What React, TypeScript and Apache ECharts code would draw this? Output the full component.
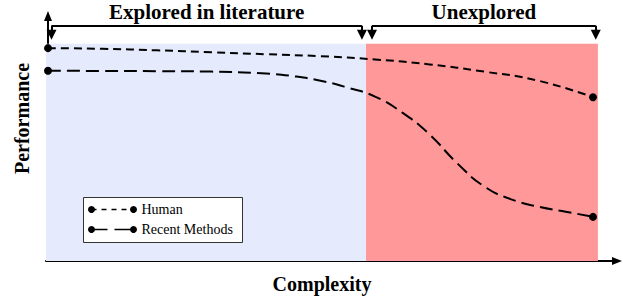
import React, { useEffect, useRef } from "react";
import * as echarts from "echarts";

// Complexity (x) and Performance (y) values, in chart units
const humanX = [0, 1, 2, 3, 4, 5, 6, 7, 8, 9, 10];
const humanPerf = [9.8, 9.77, 9.7, 9.61, 9.52, 9.43, 9.28, 9.05, 8.72, 8.3, 7.54];
const recentX = [0, 1, 2, 3, 4, 4.5, 5, 5.5, 6, 6.5, 7, 7.5, 8, 8.5, 9, 9.5, 10];
const recentPerf = [8.76, 8.75, 8.74, 8.72, 8.63, 8.51, 8.3, 7.98, 7.57, 6.83, 5.83, 4.52, 3.44, 2.84, 2.5, 2.27, 2.03];

const seriesNames = ["Human", "Recent Methods"];
const regionNames = ["Explored in literature", "Unexplored"];
const regionStart = [-0.0367, 5.835];
const regionEnd = [5.835, 10.09];
const regionTop = 10;
const bracketStart = [0.064, 5.945];
const bracketEnd = [5.76, 10.05];
const bracketY = 10.83;
const bracketTipY = 10.42;

const xMin = -0.0367;
const xMax = 10.44;
const yMin = 0;
const yMax = 11.28;

const FONT = "Liberation Serif";

function pts(xs: number[], ys: number[]) {
  return xs.map((x, i) => {
    const item: any = { value: [x, ys[i]] };
    if (i !== 0 && i !== xs.length - 1) item.symbol = "none";
    return item;
  });
}

export default function App() {
  const ref = useRef<HTMLDivElement>(null);
  useEffect(() => {
    if (!ref.current) return;
    const chart = echarts.init(ref.current, null, { renderer: "svg" });
    const regionColors = ["#e5ebfd", "#ff9999"];
    const legendRow = (i: number, y: number, dash: number[]) => [
      {
        type: "line",
        z: 101,
        shape: { x1: 8, y1: y, x2: 50, y2: y },
        style: { stroke: "#000", lineWidth: 1.6, lineDash: dash },
      },
      { type: "circle", z: 102, shape: { cx: 8, cy: y, r: 3.5 }, style: { fill: "#000" } },
      { type: "circle", z: 102, shape: { cx: 50, cy: y, r: 3.5 }, style: { fill: "#000" } },
      {
        type: "text",
        z: 102,
        x: 58,
        y,
        style: {
          text: seriesNames[i],
          fontFamily: FONT,
          fontSize: 14,
          fill: "#000",
          verticalAlign: "middle",
        },
      },
    ];
    const option: any = {
      animation: false,
      grid: { left: 46, right: 6, top: 16, bottom: 37 },
      xAxis: {
        type: "value",
        min: xMin,
        max: xMax,
        name: "Complexity",
        nameLocation: "middle",
        nameGap: 13,
        nameTextStyle: {
          fontFamily: FONT,
          fontWeight: "bold",
          fontSize: 20,
          color: "#000",
          padding: [0, 19, 0, 0],
        },
        axisLine: {
          show: true,
          symbol: ["none", "triangle"],
          symbolSize: [8, 10],
          lineStyle: { color: "#000", width: 2 },
        },
        axisTick: { show: false },
        axisLabel: { show: false },
        splitLine: { show: false },
      },
      yAxis: {
        type: "value",
        min: yMin,
        max: yMax,
        name: "Performance",
        nameLocation: "middle",
        nameRotate: 90,
        nameGap: 14,
        nameTextStyle: {
          fontFamily: FONT,
          fontWeight: "bold",
          fontSize: 20,
          color: "#000",
          padding: [0, 0, 0, 40],
        },
        axisLine: {
          show: true,
          symbol: ["none", "triangle"],
          symbolSize: [8, 10],
          lineStyle: { color: "#000", width: 2 },
        },
        axisTick: { show: false },
        axisLabel: { show: false },
        splitLine: { show: false },
      },
      series: [
        {
          name: seriesNames[0],
          type: "line",
          data: pts(humanX, humanPerf),
          smooth: 0.5,
          symbol: "circle",
          symbolSize: 8,
          itemStyle: { color: "#000" },
          lineStyle: { color: "#000", width: 2, type: [8, 5] },
          z: 5,
          markArea: {
            silent: true,
            data: regionNames.map((_, i) => [
              { xAxis: regionStart[i], yAxis: 0, itemStyle: { color: regionColors[i] } },
              { xAxis: regionEnd[i], yAxis: regionTop },
            ]),
          },
        },
        {
          name: seriesNames[1],
          type: "line",
          data: pts(recentX, recentPerf),
          smooth: 0.5,
          symbol: "circle",
          symbolSize: 8,
          itemStyle: { color: "#000" },
          lineStyle: { color: "#000", width: 2, type: [13, 6] },
          z: 5,
        },
        {
          name: "brackets",
          type: "line",
          data: [],
          markLine: {
            silent: true,
            animation: false,
            lineStyle: { color: "#000", width: 2, type: "solid" },
            data: [
              ...regionNames.map((name, i) => [
                {
                  coord: [bracketStart[i], bracketY],
                  symbol: "none",
                  name,
                  label: {
                    show: true,
                    position: "insideMiddleTop",
                    formatter: name,
                    distance: 3,
                    fontFamily: FONT,
                    fontWeight: "bold",
                    fontSize: 21,
                    color: "#000",
                  },
                },
                { coord: [bracketEnd[i], bracketY], symbol: "none" },
              ]),
              ...regionNames.flatMap((_, i) =>
                [bracketStart[i], bracketEnd[i]].map((x) => [
                  { coord: [x, bracketY], symbol: "none", label: { show: false } },
                  { coord: [x, bracketTipY], symbol: "triangle", symbolSize: 10, label: { show: false } },
                ])
              ),
            ],
          },
        },
      ],
      graphic: [
        {
          type: "group",
          left: 83,
          top: 197,
          z: 100,
          children: [
            {
              type: "rect",
              z: 100,
              shape: { x: 0, y: 0, width: 159, height: 45 },
              style: { fill: "#fff", stroke: "#333", lineWidth: 1 },
            },
            ...legendRow(0, 12, [5, 5]),
            ...legendRow(1, 32, [16, 7]),
          ],
        },
      ],
    };
    chart.setOption(option);
    return () => chart.dispose();
  }, []);
  return (
    <div
      ref={ref}
      style={{ position: "fixed", left: 0, top: 0, width: 623, height: 299, background: "#fff" }}
    />
  );
}
